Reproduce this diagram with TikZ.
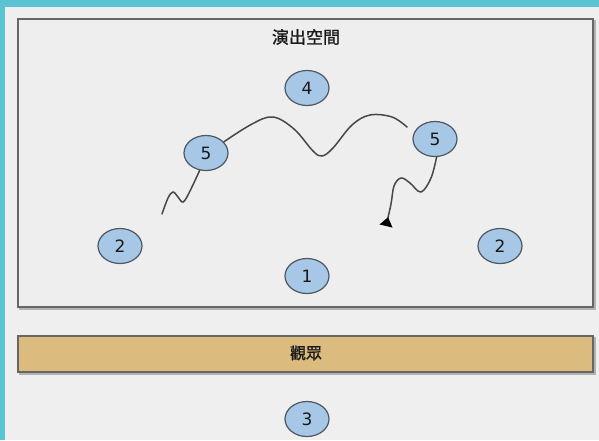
\documentclass[tikz,border=0pt]{standalone}
\usepackage{fontspec}
\setmainfont{DejaVu Sans}
\newfontfamily\cjk[FakeBold=1.2]{Noto Sans CJK TC}
\usetikzlibrary{arrows.meta,shapes.geometric}
\definecolor{tealbg}{HTML}{5BC4D2}
\definecolor{bgg}{HTML}{EFEFEF}
\definecolor{stagebg}{HTML}{EEEEEE}
\definecolor{disc}{HTML}{A7C7E7}
\definecolor{discline}{HTML}{4F5860}
\definecolor{tanbar}{HTML}{DBBC7E}
\definecolor{boxline}{HTML}{666666}
\tikzset{
  posdisc/.style={ellipse, draw=discline, line width=1.2pt, fill=disc,
    minimum width=44pt, minimum height=35pt, inner sep=0pt,
    font=\fontsize{17}{17}\selectfont, text=black!90},
  wave/.style={draw=black!72, line width=1.5pt, line cap=round},
  lbl/.style={font=\cjk\fontsize{17}{17}\selectfont, text=black!90}
}
\begin{document}
\begin{tikzpicture}[x=1pt,y=-1pt]
\useasboundingbox (0,0) rectangle (599,440);
% background
\fill[tealbg] (0,0) rectangle (599,440);
\fill[bgg] (5,7) rectangle (599,440);
% stage
\draw[black!30, line width=1.5pt] (20,21) rectangle (595,309);
\draw[boxline, fill=stagebg, line width=1.3pt] (18,19) rectangle (593,307);
\node[lbl] (title) at (306,37) {演出空間};
% audience bar
\draw[black!30, line width=1.5pt] (20,338) rectangle (595,374);
\draw[boxline, fill=tanbar, line width=1.3pt] (18,336) rectangle (593,372);
\node[lbl, font=\cjk\fontsize{16}{16}\selectfont] (aud) at (306,353) {觀眾};
% positions
\node[posdisc] (p4) at (307,88) {4};
\node[posdisc] (p5a) at (206,153) {5};
\node[posdisc] (p5b) at (435,139) {5};
\node[posdisc] (p2a) at (120,246) {2};
\node[posdisc] (p2b) at (500,246) {2};
\node[posdisc] (p1) at (307,276) {1};
\node[posdisc] (p3) at (307,419) {3};
% wave ends
\coordinate (wA) at (162,214);
\coordinate (wB) at (407,127);
\coordinate (wC) at (386,226);
% waves
\draw[wave] plot[smooth, tension=0.6] coordinates {(wA) (168,198) (173,192) (178,197) (183,202) (189,193) (p5a.250)};
\draw[wave] plot[smooth, tension=0.6] coordinates {(p5a.32) (252,124) (273,117) (294,129) (313,151) (322,156) (333,148) (352,125) (370,115) (392,117) (wB)};
\draw[wave, -{Triangle[reversed,length=9pt,width=13pt,color=black]}] plot[smooth, tension=0.6] coordinates {(p5b.275) (431,178) (421,192) (410,183) (401,178) (394,186) (391,204) (wC)};
\end{tikzpicture}
\end{document}
